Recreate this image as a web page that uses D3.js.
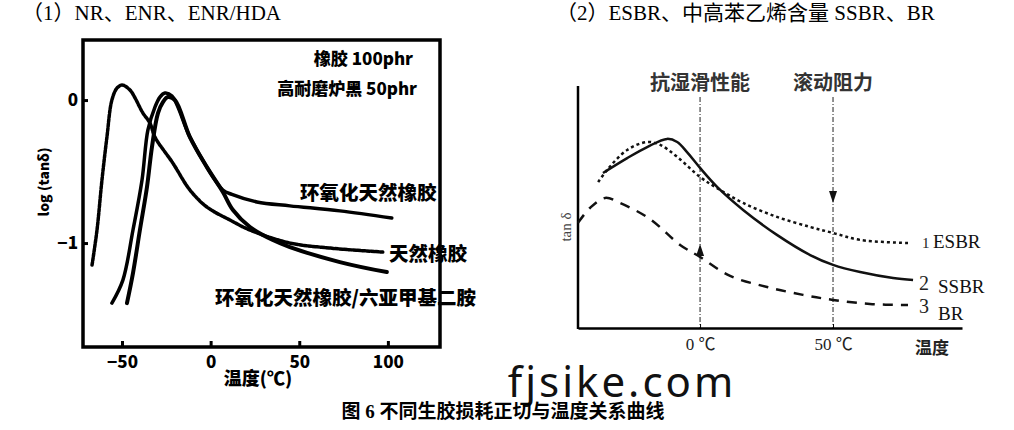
<!DOCTYPE html>
<html>
<head>
<meta charset="utf-8">
<script src="https://cdn.jsdelivr.net/npm/d3@7"></script>
<style>
  body { margin: 0; background: #fff; }
  svg { display: block; }
</style>
</head>
<body>
<svg id="vis-svg"></svg>
<script>
// Left panel: log(tan δ) vs temperature, values as [T (℃), log tanδ]
const nrData = [[-66.9,-1.154],[-64.1,-0.909],[-61.3,-0.559],[-58.5,-0.259],[-55.7,0],[-52.8,0.084],[-50,0.105],
  [-45.5,0.07],[-38.2,-0.091],[-34.2,-0.161],[-31.4,-0.259],[-21.3,-0.441],[-11.7,-0.629],[-2.1,-0.748],
  [10.9,-0.839],[22.2,-0.909],[44.7,-1.0],[67.3,-1.035],[97.1,-1.063]];
const enrData = [[-55.7,-1.42],[-49.5,-1.259],[-43.8,-0.909],[-38.7,-0.559],[-35.4,-0.21],[-31.4,-0.049],[-28.6,0.021],
  [-25.8,0.049],[-21.8,0.028],[-11.7,-0.259],[-2.1,-0.469],[6.9,-0.629],[12,-0.66],[26.1,-0.713],[44.7,-0.74],
  [72.9,-0.775],[102.2,-0.825]];
const enrHdaData = [[-47.2,-1.42],[-43.8,-1.21],[-39.9,-0.909],[-35.9,-0.608],[-33.1,-0.329],[-29.7,-0.091],[-26.9,-0.014],
  [-24.1,0.021],[-20.1,0],[-11.7,-0.259],[-2.1,-0.469],[6.9,-0.643],[12.6,-0.769],[22.2,-0.888],[35.1,-0.979],
  [44.7,-1.028],[72.9,-1.133],[99.4,-1.203]];
const leftXTicks = [-50, 0, 50, 100];
const leftYTicks = [0, -1];

// Right panel: tan δ (relative) vs temperature
const esbrData = [[-38.3,0.608],[-35,0.658],[-27.4,0.742],[-19.9,0.775],[-15,0.763],[-8.6,0.713],[0,0.629],[6.4,0.583],
  [16.2,0.521],[28.9,0.463],[41.4,0.421],[50,0.396],[60.2,0.367],[78.2,0.354]];
const ssbrData = [[-36.5,0.646],[-27.4,0.708],[-19.9,0.754],[-12.4,0.788],[-8.6,0.775],[-4.9,0.733],[0,0.667],[6.4,0.588],
  [16.2,0.492],[28.9,0.388],[41.4,0.304],[50,0.263],[60.2,0.233],[72.6,0.208],[80.1,0.2]];
const brData = [[-45.9,0.438],[-41.4,0.5],[-35.7,0.542],[-30.1,0.521],[-18.8,0.454],[-7.5,0.346],[0,0.296],[11.3,0.217],
  [25.2,0.171],[38.7,0.138],[50,0.117],[63.9,0.1],[78.2,0.096]];
const rightXTicks = [0, 50];
const markTemps = [0, 50];

const width = 1014, height = 430;
const svg = d3.select("#vis-svg").attr("width", width).attr("height", height);

const serif = "'Liberation Serif', 'Noto Sans CJK SC', serif";
const cjk = "'Noto Sans CJK SC', sans-serif";

// Titles
svg.append("text").attr("x", 22).attr("y", 20)
  .style("font-family", serif).style("font-size", "21px")
  .text("（1）NR、ENR、ENR/HDA");
svg.append("text").attr("x", 556).attr("y", 20)
  .style("font-family", serif).style("font-size", "21px")
  .text("（2）ESBR、中高苯乙烯含量 SSBR、BR");

// ---------- Left panel ----------
const x1 = d3.scaleLinear().domain([-72, 129.4]).range([83, 440]);
const y1 = d3.scaleLinear().domain([-1.727, 0.42]).range([347, 40]);

const line1 = d3.line().x(d => x1(d[0])).y(d => y1(d[1])).curve(d3.curveCatmullRom.alpha(0.5));

svg.append("rect")
  .attr("x", 83).attr("y", 40).attr("width", 357).attr("height", 307)
  .attr("fill", "none").attr("stroke", "#000").attr("stroke-width", 3.5);

const gx1 = svg.append("g").attr("transform", "translate(0,347)")
  .call(d3.axisBottom(x1).tickValues(leftXTicks).tickSizeInner(-6).tickSizeOuter(0).tickPadding(9).tickFormat(d3.format("d")));
gx1.select(".domain").remove();
gx1.selectAll("line").attr("stroke-width", 3);
gx1.selectAll("text").style("font-family", cjk).style("font-weight", 900).style("font-size", "17px");

const gy1 = svg.append("g").attr("transform", "translate(83,0)")
  .call(d3.axisLeft(y1).tickValues(leftYTicks).tickSizeInner(-5).tickSizeOuter(0).tickPadding(5).tickFormat(d3.format("d")));
gy1.select(".domain").remove();
gy1.selectAll("line").attr("stroke-width", 3);
gy1.selectAll("text").style("font-family", cjk).style("font-weight", 900).style("font-size", "17px");

svg.append("text").attr("transform", "translate(49,182) rotate(-90)")
  .attr("text-anchor", "middle")
  .style("font-family", cjk).style("font-weight", 900).style("font-size", "14px")
  .text("log (tanδ)");

svg.append("text").attr("x", 258).attr("y", 385).attr("text-anchor", "middle")
  .style("font-family", cjk).style("font-weight", 900).style("font-size", "18px")
  .text("温度(℃)");

svg.append("path").datum(nrData).attr("d", line1)
  .attr("fill", "none").attr("stroke", "#000").attr("stroke-width", 3.5)
  .attr("stroke-dasharray", "3,1.5").attr("stroke-linecap", "round");
svg.append("path").datum(enrData).attr("d", line1)
  .attr("fill", "none").attr("stroke", "#000").attr("stroke-width", 3.5).attr("stroke-linecap", "round");
svg.append("path").datum(enrHdaData).attr("d", line1)
  .attr("fill", "none").attr("stroke", "#000").attr("stroke-width", 4).attr("stroke-linecap", "round");

const leftNotes = [
  { t: "橡胶 100phr", x: 413, y: 65, s: 17, a: "end" },
  { t: "高耐磨炉黑 50phr", x: 417, y: 95, s: 17, a: "end" },
  { t: "环氧化天然橡胶", x: 300, y: 200, s: 19.5, a: "start" },
  { t: "天然橡胶", x: 389, y: 261, s: 19.5, a: "start" },
  { t: "环氧化天然橡胶/六亚甲基二胺", x: 215, y: 305, s: 19.5, a: "start" }
];
svg.selectAll(".lnote").data(leftNotes).enter().append("text")
  .attr("x", d => d.x).attr("y", d => d.y).attr("text-anchor", d => d.a)
  .style("font-family", cjk).style("font-weight", 900).style("font-size", d => d.s + "px")
  .text(d => d.t);

// ---------- Right panel ----------
const x2 = d3.scaleLinear().domain([-45.9, 98.5]).range([578, 962]);
const y2 = d3.scaleLinear().domain([0, 1]).range([328, 88]);
const line2 = d3.line().x(d => x2(d[0])).y(d => y2(d[1])).curve(d3.curveCatmullRom.alpha(0.5));

// vertical reference lines
svg.selectAll(".vref").data(markTemps).enter().append("line")
  .attr("x1", d => x2(d)).attr("x2", d => x2(d)).attr("y1", 97).attr("y2", 328)
  .attr("stroke", "#222").attr("stroke-width", 1).attr("stroke-dasharray", "5,2,1,2");

const gx2 = svg.append("g").attr("transform", "translate(0,328)")
  .call(d3.axisBottom(x2).tickValues(rightXTicks).tickSizeInner(-4).tickSizeOuter(0).tickPadding(10)
    .tickFormat(d => d + " ℃"));
gx2.select(".domain").attr("stroke-width", 2.5);
gx2.selectAll("text").style("font-family", serif).style("font-size", "17px").attr("fill", "#222");

svg.append("line").attr("x1", 578).attr("x2", 578).attr("y1", 86).attr("y2", 329)
  .attr("stroke", "#000").attr("stroke-width", 2.5);

svg.append("text").attr("transform", "translate(571,227) rotate(-90)").attr("text-anchor", "middle")
  .style("font-family", serif).style("font-size", "15px").attr("fill", "#444").text("tan δ");

svg.append("text").attr("x", 932).attr("y", 354).attr("text-anchor", "middle")
  .style("font-family", cjk).style("font-weight", 700).style("font-size", "17px").attr("fill", "#222").text("温度");

svg.selectAll(".rtop").data([["抗湿滑性能", 0], ["滚动阻力", 50]]).enter().append("text")
  .attr("x", d => x2(d[1])).attr("y", 90).attr("text-anchor", "middle")
  .style("font-family", cjk).style("font-weight", 700).style("font-size", "20px").attr("fill", "#333")
  .text(d => d[0]);

svg.append("path").datum(esbrData).attr("d", line2)
  .attr("fill", "none").attr("stroke", "#111").attr("stroke-width", 2.5).attr("stroke-dasharray", "3,3");
svg.append("path").datum(ssbrData).attr("d", line2)
  .attr("fill", "none").attr("stroke", "#111").attr("stroke-width", 2.5);
svg.append("path").datum(brData).attr("d", line2)
  .attr("fill", "none").attr("stroke", "#111").attr("stroke-width", 2.5).attr("stroke-dasharray", "10,8");

// arrows on reference lines
const ax50 = x2(50), ax0 = x2(0);
svg.append("path").attr("d", `M${ax50 - 4},191 L${ax50 + 4},191 L${ax50},203 Z`).attr("fill", "#111");
svg.append("path").attr("d", `M${ax0 - 4},256 L${ax0 + 4},256 L${ax0},244 Z`).attr("fill", "#111");

// series labels at line ends: number, name, offsets from end point
const rightLabels = [
  { n: "1", t: "ESBR", v: esbrData[esbrData.length - 1][1], nx: 922, tx: 933, ny: 5, ty: 5, ns: 15 },
  { n: "2", t: "SSBR", v: ssbrData[ssbrData.length - 1][1], nx: 919, tx: 938, ny: 10, ty: 13, ns: 20 },
  { n: "3", t: "BR", v: brData[brData.length - 1][1], nx: 919, tx: 938, ny: 8, ty: 15, ns: 20 }
];
rightLabels.forEach(d => {
  const yy = y2(d.v);
  svg.append("text").attr("x", d.nx).attr("y", yy + d.ny).style("font-family", serif)
    .style("font-size", d.ns + "px").attr("fill", "#222").text(d.n);
  svg.append("text").attr("x", d.tx).attr("y", yy + d.ty)
    .style("font-family", serif).style("font-size", "19px").attr("fill", "#111").text(d.t);
});

// watermark and caption
svg.append("text").attr("x", 622).attr("y", 397).attr("text-anchor", "middle")
  .style("font-family", "'Noto Sans', sans-serif").style("font-size", "42px").style("letter-spacing", "3px")
  .attr("fill", "#111")
  .text("fjsike.com");
svg.append("text").attr("x", 503).attr("y", 418).attr("text-anchor", "middle")
  .style("font-family", serif).style("font-weight", 700).style("font-size", "19px")
  .text("图 6 不同生胶损耗正切与温度关系曲线");
</script>
</body>
</html>
